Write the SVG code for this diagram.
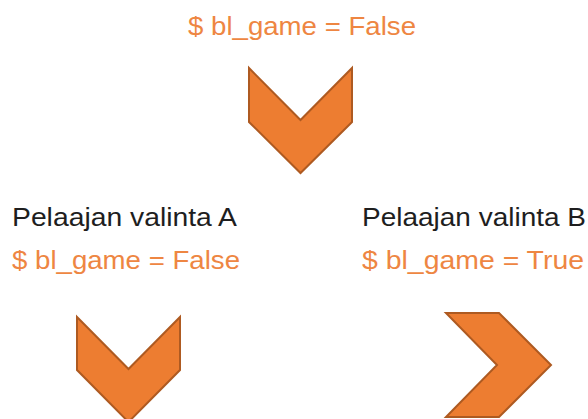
<svg xmlns="http://www.w3.org/2000/svg" width="588" height="419" viewBox="0 0 588 419">
<style>
.t{font-family:"Liberation Sans",Arial,sans-serif;font-size:26px}
.o{fill:#EE8642}
.k{fill:#1e1e1e}
.chev{fill:#ED7D31;stroke:#AE5A21;stroke-width:2;stroke-linejoin:miter}
</style>
<rect width="588" height="419" fill="#ffffff"/>
<g id="start">
<text class="t o" x="188" y="35" textLength="228" lengthAdjust="spacingAndGlyphs">$ bl_game = False</text>
</g>
<g id="choiceA">
<text class="t k" x="12" y="226" textLength="225" lengthAdjust="spacingAndGlyphs">Pelaajan valinta A</text>
<text class="t o" x="12" y="269" textLength="228" lengthAdjust="spacingAndGlyphs">$ bl_game = False</text>
</g>
<g id="choiceB">
<text class="t k" x="362" y="226" textLength="224" lengthAdjust="spacingAndGlyphs">Pelaajan valinta B</text>
<text class="t o" x="362" y="269" textLength="222" lengthAdjust="spacingAndGlyphs">$ bl_game = True</text>
</g>
<g id="connectors">
<polygon class="chev" points="249,68 300.5,120 352,68 352,122 300.5,173 249,122"/>
<polygon class="chev" points="77,317 128.5,369 180,317 180,370 128.5,422 77,370"/>
<polygon class="chev" points="446,313 499,313 551,365 499,417 446,417 497,365"/>
</g>
</svg>
